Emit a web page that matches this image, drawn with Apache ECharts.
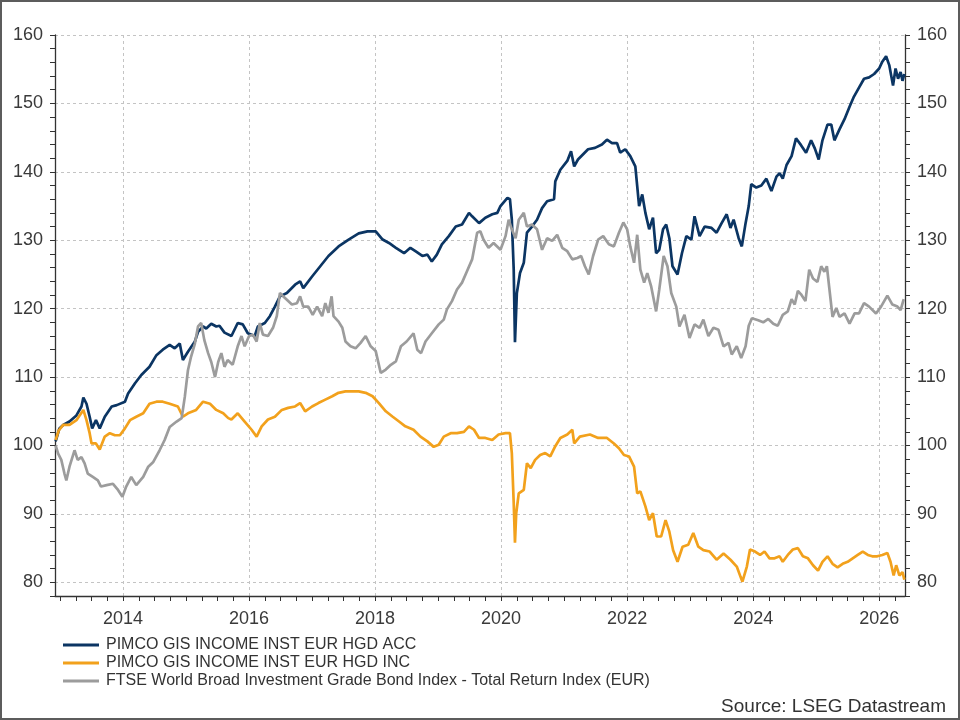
<!DOCTYPE html>
<html>
<head>
<meta charset="utf-8">
<title>PIMCO GIS Income vs FTSE WBIG</title>
<script src="https://cdn.jsdelivr.net/npm/echarts@6/dist/echarts.min.js"></script>
<style>
    html, body { margin: 0; padding: 0; background: #fff; }
    #chart { width: 960px; height: 720px; }
</style>
</head>
<body>
<div id="chart"></div>
<script>
// 系列名称
var seriesNames = [
    'PIMCO GIS INCOME INST EUR HGD ACC',
    'PIMCO GIS INCOME INST EUR HGD INC',
    'FTSE World Broad Investment Grade Bond Index - Total Return Index (EUR)'
];

// ACC (年份, 值)
var accYears = [2012.93, 2012.99, 2013.05, 2013.15, 2013.26, 2013.34, 2013.37, 2013.42, 2013.47, 2013.51, 2013.57, 2013.63, 2013.71, 2013.82, 2013.9,
    2014.03, 2014.08, 2014.19, 2014.29, 2014.42, 2014.53, 2014.63, 2014.74, 2014.82, 2014.9, 2014.95,
    2015.03, 2015.14, 2015.19, 2015.27, 2015.32, 2015.4, 2015.48, 2015.53, 2015.61, 2015.72, 2015.82, 2015.9, 2015.98,
    2016.09, 2016.14, 2016.25, 2016.33, 2016.41, 2016.49, 2016.6, 2016.73, 2016.81, 2016.86,
    2017.0, 2017.13, 2017.26, 2017.42, 2017.58, 2017.74, 2017.88,
    2018.01, 2018.12, 2018.22, 2018.33, 2018.46, 2018.56, 2018.64, 2018.75, 2018.83, 2018.9, 2018.98,
    2019.06, 2019.17, 2019.28, 2019.38, 2019.49, 2019.54, 2019.65, 2019.75, 2019.86, 2019.94, 2019.99,
    2020.1, 2020.14, 2020.17, 2020.2, 2020.22, 2020.25, 2020.3, 2020.36, 2020.41, 2020.49, 2020.57, 2020.65, 2020.73, 2020.84, 2020.86, 2020.94,
    2021.05, 2021.11, 2021.16, 2021.22, 2021.38, 2021.49, 2021.6, 2021.68, 2021.76, 2021.84, 2021.89, 2021.97,
    2022.05, 2022.13, 2022.16, 2022.19, 2022.24, 2022.29, 2022.35, 2022.41, 2022.46, 2022.51, 2022.57, 2022.62, 2022.67, 2022.72, 2022.8, 2022.87, 2022.94,
    2023.02, 2023.07, 2023.15, 2023.23, 2023.34, 2023.42, 2023.5, 2023.58, 2023.64, 2023.69, 2023.77, 2023.82, 2023.88, 2023.93, 2023.97,
    2024.05, 2024.13, 2024.21, 2024.29, 2024.37, 2024.42, 2024.47, 2024.53, 2024.61, 2024.68, 2024.76, 2024.84, 2024.92, 2024.98,
    2025.04, 2025.1, 2025.18, 2025.24, 2025.29, 2025.37, 2025.45, 2025.53, 2025.6, 2025.68, 2025.76, 2025.84, 2025.92,
    2026.0, 2026.05, 2026.11, 2026.16, 2026.22, 2026.26, 2026.3, 2026.34, 2026.37, 2026.4];
var accValues = [100.6, 102.5, 103.0, 103.5, 104.4, 105.7, 107.0, 106.1, 104.2, 102.5, 103.7, 102.5, 104.2, 105.7, 105.9,
    106.4, 107.6, 109.1, 110.3, 111.5, 113.2, 114.0, 114.7, 114.2, 114.9, 112.5,
    113.7, 115.2, 116.6, 117.4, 117.1, 117.8, 117.4, 117.5, 116.5, 116.0, 117.9, 117.7, 116.4,
    116.0, 117.4, 117.9, 118.9, 120.3, 121.8, 122.3, 123.5, 124.0, 123.0,
    124.7, 126.2, 127.7, 129.1, 130.1, 131.0, 131.3,
    131.3, 130.1, 129.6, 128.9, 128.1, 128.9, 128.4, 127.7, 127.9, 126.9, 127.9,
    129.4, 130.6, 132.0, 132.3, 134.0, 133.5, 132.5, 133.3, 133.8, 134.0, 135.0,
    136.2, 136.0, 133.0, 125.7, 115.1, 122.3, 125.2, 126.7, 131.1, 132.0, 133.0, 134.7, 135.7, 136.0, 138.6, 140.3,
    141.6, 143.0, 140.8, 141.8, 143.3, 143.5, 144.0, 144.7, 144.2, 144.2, 142.8, 143.3,
    142.3, 140.8, 137.9, 135.0, 136.7, 134.0, 131.6, 133.3, 128.1, 128.6, 131.6, 132.3, 130.3, 126.2, 125.0, 128.1, 130.6,
    130.1, 133.5, 130.6, 132.0, 131.8, 131.1, 132.5, 133.8, 131.8, 133.0, 130.3, 129.1, 132.5, 135.0, 138.2,
    137.7, 138.0, 139.0, 137.2, 139.3, 139.8, 139.0, 141.0, 142.3, 144.9, 143.9, 142.8, 144.6, 143.4,
    141.8, 144.6, 146.9, 146.9, 144.6, 146.2, 147.7, 149.5, 151.0, 152.3, 153.6, 153.8, 154.3,
    155.1, 156.1, 156.9, 155.6, 152.6, 155.1, 153.6, 154.6, 153.3, 154.3];

// INC (年份, 值)
var incYears = [2012.93, 2012.98, 2013.05, 2013.15, 2013.26, 2013.37, 2013.42, 2013.47, 2013.5, 2013.57, 2013.63, 2013.71, 2013.79, 2013.87, 2013.95,
    2014.03, 2014.11, 2014.21, 2014.32, 2014.42, 2014.53, 2014.63, 2014.74, 2014.87, 2014.95,
    2015.03, 2015.16, 2015.27, 2015.38, 2015.48, 2015.59, 2015.67, 2015.72, 2015.82, 2015.93,
    2016.04, 2016.12, 2016.2, 2016.3, 2016.41, 2016.52, 2016.62, 2016.73, 2016.81, 2016.89,
    2017.0, 2017.1, 2017.21, 2017.32, 2017.42, 2017.53, 2017.64, 2017.74, 2017.85, 2017.96,
    2018.06, 2018.17, 2018.28, 2018.38, 2018.48, 2018.61, 2018.72, 2018.83, 2018.93,
    2019.01, 2019.09, 2019.2, 2019.3, 2019.41, 2019.49, 2019.57, 2019.65, 2019.75, 2019.86, 2019.96,
    2020.07, 2020.14, 2020.17, 2020.2, 2020.22, 2020.24, 2020.28, 2020.36, 2020.41, 2020.47, 2020.54, 2020.62, 2020.7, 2020.78, 2020.86, 2020.94,
    2021.05, 2021.13, 2021.16, 2021.25, 2021.41, 2021.54, 2021.68, 2021.79, 2021.87, 2021.95,
    2022.03, 2022.11, 2022.16, 2022.21, 2022.29, 2022.35, 2022.41, 2022.47, 2022.54, 2022.61, 2022.67, 2022.73, 2022.8, 2022.88, 2022.97,
    2023.05, 2023.13, 2023.21, 2023.31, 2023.42, 2023.53, 2023.64, 2023.74, 2023.8, 2023.83, 2023.9, 2023.95,
    2024.03, 2024.11, 2024.18, 2024.26, 2024.34, 2024.42, 2024.47, 2024.55, 2024.63, 2024.71, 2024.79, 2024.87, 2024.95,
    2025.03, 2025.1, 2025.18, 2025.26, 2025.34, 2025.42, 2025.5, 2025.58, 2025.66, 2025.74, 2025.82, 2025.89, 2025.97,
    2026.05, 2026.13, 2026.18, 2026.23, 2026.27, 2026.32, 2026.37, 2026.4];
var incValues = [100.8, 102.2, 103.0, 103.0, 103.7, 105.2, 103.7, 101.8, 100.3, 100.3, 99.4, 101.3, 101.8, 101.5, 101.5,
    102.5, 103.7, 104.2, 104.7, 106.1, 106.4, 106.4, 106.1, 105.7, 104.2,
    104.7, 105.2, 106.4, 106.1, 105.2, 104.7, 104.0, 103.8, 104.7, 103.5,
    102.3, 101.3, 102.8, 103.8, 104.2, 105.2, 105.5, 105.7, 106.2, 105.0,
    105.7, 106.2, 106.7, 107.2, 107.7, 107.9, 107.9, 107.9, 107.7, 107.2,
    106.2, 105.0, 104.2, 103.5, 102.8, 102.3, 101.3, 100.6, 99.8,
    100.1, 101.3, 101.8, 101.8, 102.0, 102.8, 102.3, 101.1, 101.1, 100.8, 101.6,
    101.8, 101.8, 98.9, 91.6, 85.8, 90.1, 93.0, 93.5, 97.4, 96.7, 97.9, 98.6, 98.9, 98.4, 99.9, 101.1,
    101.6, 102.3, 100.3, 101.3, 101.6, 101.1, 101.1, 100.3, 99.6, 98.6,
    98.4, 96.9, 93.0, 93.3, 91.1, 89.1, 90.1, 86.7, 86.7, 89.1, 87.4, 84.7, 83.0, 85.2, 85.5,
    87.2, 85.2, 84.7, 84.5, 83.3, 84.2, 83.3, 82.3, 80.8, 80.1, 82.3, 84.8,
    84.5, 84.0, 84.5, 83.5, 83.5, 83.8, 83.0, 84.0, 84.8, 85.0, 83.8, 83.5, 82.5,
    81.7, 83.0, 83.8, 82.7, 82.2, 82.7, 83.0, 83.5, 84.0, 84.5, 84.0, 83.8, 83.8,
    84.0, 84.3, 83.0, 81.0, 82.5, 81.0, 81.5, 80.4];

// FTSE WBIG (年份, 值)
var ftseYears = [2012.93, 2012.97, 2013.02, 2013.07, 2013.1, 2013.15, 2013.23, 2013.28, 2013.34, 2013.39, 2013.44, 2013.52, 2013.6, 2013.65, 2013.74, 2013.84, 2013.92, 2013.99,
    2014.05, 2014.13, 2014.21, 2014.32, 2014.4, 2014.48, 2014.58, 2014.66, 2014.74, 2014.85, 2014.93, 2014.98,
    2015.03, 2015.08, 2015.14, 2015.19, 2015.24, 2015.29, 2015.35, 2015.4, 2015.46, 2015.51, 2015.56, 2015.61, 2015.66, 2015.74, 2015.82, 2015.88, 2015.93,
    2016.0, 2016.06, 2016.12, 2016.17, 2016.22, 2016.3, 2016.38, 2016.44, 2016.49, 2016.54, 2016.6, 2016.68, 2016.76, 2016.81, 2016.86, 2016.94,
    2017.01, 2017.08, 2017.16, 2017.21, 2017.26, 2017.31, 2017.34, 2017.42, 2017.48, 2017.53, 2017.61, 2017.69, 2017.77, 2017.85, 2017.93,
    2018.01, 2018.09, 2018.17, 2018.25, 2018.33, 2018.41, 2018.5, 2018.61, 2018.67, 2018.73, 2018.8, 2018.9,
    2019.01, 2019.09, 2019.14, 2019.22, 2019.3, 2019.38, 2019.46, 2019.54, 2019.62, 2019.67, 2019.72, 2019.8, 2019.88, 2019.99,
    2020.07, 2020.12, 2020.17, 2020.23, 2020.28, 2020.36, 2020.41, 2020.49, 2020.57, 2020.65, 2020.73, 2020.81, 2020.89, 2020.97,
    2021.05, 2021.13, 2021.21, 2021.27, 2021.33, 2021.39, 2021.46, 2021.54, 2021.62, 2021.71, 2021.79, 2021.87, 2021.94,
    2022.0, 2022.05, 2022.11, 2022.16, 2022.21, 2022.27, 2022.32, 2022.38, 2022.46, 2022.51, 2022.58, 2022.64, 2022.7, 2022.78, 2022.83, 2022.91, 2022.99,
    2023.07, 2023.15, 2023.21, 2023.29, 2023.37, 2023.45, 2023.53, 2023.61, 2023.66, 2023.74, 2023.81, 2023.88, 2023.93, 2023.98,
    2024.08, 2024.16, 2024.24, 2024.32, 2024.39, 2024.47, 2024.55, 2024.61, 2024.66, 2024.71, 2024.76, 2024.83, 2024.89, 2024.95,
    2025.02, 2025.08, 2025.13, 2025.17, 2025.21, 2025.26, 2025.32, 2025.37, 2025.45, 2025.53, 2025.61, 2025.68, 2025.76, 2025.84, 2025.95,
    2026.03, 2026.13, 2026.21, 2026.29, 2026.34, 2026.39];
var ftseValues = [100.0, 98.8, 97.9, 95.9, 94.9, 96.9, 99.3, 97.9, 98.3, 97.4, 95.9, 95.4, 94.9, 94.0, 94.2, 94.4, 93.5, 92.5,
    94.0, 95.4, 94.2, 95.4, 96.9, 97.6, 99.3, 100.8, 102.7, 103.5, 104.0, 107.1,
    111.0, 113.0, 114.9, 117.4, 117.9, 115.4, 113.5, 112.2, 110.0, 112.2, 113.5, 111.5, 112.5, 111.8, 114.5, 116.0, 114.5,
    116.0, 116.2, 115.2, 117.9, 116.2, 116.0, 117.2, 118.9, 122.3, 121.8, 121.3, 120.6, 120.8, 121.8, 120.3, 120.3,
    119.1, 120.3, 118.9, 120.8, 119.4, 121.8, 118.9, 118.1, 117.2, 115.2, 114.5, 114.2, 115.0, 116.0, 114.5,
    113.8, 110.6, 111.1, 111.8, 112.3, 114.5, 115.2, 116.4, 114.0, 113.5, 115.2, 116.4,
    117.7, 118.4, 119.9, 121.1, 122.8, 123.8, 125.5, 127.2, 131.1, 131.3, 130.1, 128.9, 129.6, 128.6,
    130.6, 133.0, 131.6, 130.3, 133.0, 134.0, 132.0, 132.3, 131.6, 128.6, 130.3, 129.9, 130.8, 128.9,
    128.4, 127.2, 127.4, 127.7, 126.2, 125.0, 127.7, 130.1, 130.6, 129.4, 129.1, 131.1, 132.6,
    131.6, 129.1, 126.7, 130.8, 125.7, 123.8, 125.2, 123.3, 119.6, 122.8, 127.7, 126.2, 122.3, 120.3, 117.4, 119.1, 115.7,
    117.7, 117.2, 118.4, 116.0, 117.2, 116.9, 114.5, 115.0, 113.3, 114.5, 112.8, 114.5, 117.5, 118.6,
    118.3, 118.0, 118.5, 117.8, 117.5, 119.1, 119.6, 121.4, 120.6, 122.6, 122.1, 121.1, 125.7, 124.4,
    123.9, 126.2, 125.4, 126.2, 122.9, 118.8, 120.1, 118.8, 119.3, 117.8, 119.3, 119.3, 120.8, 120.3, 119.3,
    120.3, 121.9, 120.6, 120.3, 119.8, 121.4];

// 坐标轴刻度
var xLabelYears = [2014, 2016, 2018, 2020, 2022, 2024, 2026];
var yLabelValues = [80, 90, 100, 110, 120, 130, 140, 150, 160];
var xMin = 2012.92, xMax = 2026.41;
var yMin = 78, yMax = 160;

// 季度刻度 / 小刻度
var quarterTicks = [];
for (var q = 2013; q <= 2026.3; q += 0.25) quarterTicks.push(q);
var yMinorTicks = [];
for (var t = yMin; t <= yMax; t += 2) yMinorTicks.push(t);

function pairs(xs, ys) {
    return xs.map(function (x, i) {
        return [x, ys[i]];
    });
}

var fontName = '"Liberation Sans", Arial, sans-serif';
var axisColor = '#333';
var labelColor = '#3a3a3a';
var gridLine = { show: true, lineStyle: { color: '#c4c4c4', type: [3, 3], width: 1 } };

var chart = echarts.init(document.getElementById('chart'));
chart.setOption({
    animation: false,
    backgroundColor: '#fff',
    textStyle: { fontFamily: fontName },
    grid: { left: 55, right: 55, top: 35, bottom: 124 },
    legend: {
        orient: 'vertical',
        left: 63,
        top: 637,
        padding: 0,
        itemGap: 2,
        itemWidth: 36,
        itemHeight: 3,
        icon: 'rect',
        textStyle: { fontSize: 16, color: '#333', fontFamily: fontName, lineHeight: 16, padding: [0, 0, 0, 2] },
        data: seriesNames
    },
    xAxis: [
        {
            type: 'value',
            min: xMin,
            max: xMax,
            position: 'bottom',
            axisLine: { show: true, lineStyle: { color: axisColor, width: 1.3 } },
            axisTick: { show: true, length: 5, customValues: quarterTicks, lineStyle: { color: axisColor } },
            axisLabel: {
                customValues: xLabelYears,
                formatter: function (v) { return String(Math.round(v)); },
                fontSize: 18,
                color: labelColor,
                margin: 14,
                fontFamily: fontName
            },
            splitLine: { show: false }
        },
        {
            // 竖向网格线
            type: 'value',
            min: xMin,
            max: xMax,
            position: 'top',
            axisLine: { show: false },
            axisTick: { show: false, customValues: xLabelYears },
            axisLabel: { show: false },
            splitLine: gridLine
        }
    ],
    yAxis: [
        {
            type: 'value',
            min: yMin,
            max: yMax,
            position: 'left',
            axisLine: { show: true, lineStyle: { color: axisColor, width: 1.3 } },
            axisTick: { show: true, length: 5, customValues: yMinorTicks, lineStyle: { color: axisColor } },
            axisLabel: { customValues: yLabelValues, fontSize: 18, color: labelColor, margin: 12, fontFamily: fontName },
            splitLine: { show: false }
        },
        {
            type: 'value',
            min: yMin,
            max: yMax,
            position: 'right',
            axisLine: { show: true, lineStyle: { color: axisColor, width: 1.3 } },
            axisTick: { show: true, length: 5, customValues: yMinorTicks, lineStyle: { color: axisColor } },
            axisLabel: { customValues: yLabelValues, fontSize: 18, color: labelColor, margin: 12, fontFamily: fontName },
            splitLine: { show: false }
        },
        {
            // 横向网格线
            type: 'value',
            min: yMin,
            max: yMax,
            position: 'left',
            axisLine: { show: false },
            axisTick: { show: false, customValues: yLabelValues },
            axisLabel: { show: false },
            splitLine: gridLine
        }
    ],
    series: [
        {
            name: seriesNames[0],
            type: 'line',
            showSymbol: false,
            color: '#0b3563',
            lineStyle: { width: 2.7 },
            data: pairs(accYears, accValues)
        },
        {
            name: seriesNames[1],
            type: 'line',
            showSymbol: false,
            color: '#f2a11c',
            lineStyle: { width: 2.7 },
            data: pairs(incYears, incValues)
        },
        {
            name: seriesNames[2],
            type: 'line',
            showSymbol: false,
            color: '#9c9c9c',
            lineStyle: { width: 2.7 },
            data: pairs(ftseYears, ftseValues)
        }
    ],
    graphic: [
        {
            type: 'rect',
            shape: { x: 1, y: 1, width: 958, height: 718 },
            style: { fill: 'none', stroke: '#5c5c5c', lineWidth: 2 },
            silent: true
        },
        {
            type: 'text',
            right: 14,
            bottom: 4,
            style: { text: 'Source: LSEG Datastream', fill: '#333', font: '19px ' + fontName }
        }
    ]
});
</script>
</body>
</html>
